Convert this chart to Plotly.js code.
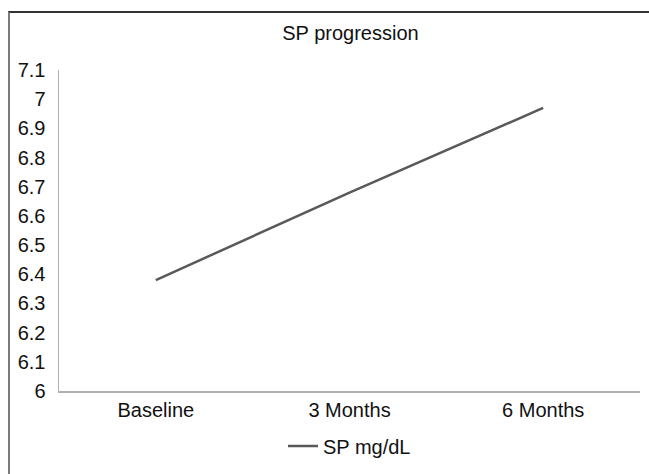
<!DOCTYPE html>
<html>
<head>
<meta charset="utf-8">
<script src="https://cdn.plot.ly/plotly-3.0.1.min.js"></script>
<style>
  html, body { margin: 0; padding: 0; background: #fff; }
  #wrap { position: relative; width: 649px; height: 474px; overflow: hidden; }
  #chart { position: absolute; left: 0; top: 0; width: 649px; height: 474px; }
  #frame { position: absolute; left: 8px; top: 11px; width: 700px; height: 520px;
           border-left: 2px solid #7a7a7a; border-top: 2px solid #333; pointer-events: none; }
</style>
</head>
<body>
<div id="wrap">
  <div id="chart"></div>
  <div id="frame"></div>
</div>
<script>
const categories = ["Baseline", "3 Months", "6 Months"];
const spValues = [6.38, 6.68, 6.97];
const seriesName = "SP mg/dL";
const chartTitle = "SP progression";
const yTicks = [6, 6.1, 6.2, 6.3, 6.4, 6.5, 6.6, 6.7, 6.8, 6.9, 7, 7.1];

const font = "Liberation Sans, Arial, sans-serif";

const trace = {
  x: categories,
  y: spValues,
  type: "scatter",
  mode: "lines",
  name: seriesName,
  line: { color: "#595959", width: 2.5 },
  showlegend: true
};

const layout = {
  width: 649,
  height: 474,
  margin: { l: 59, r: 9, t: 70, b: 71 },
  paper_bgcolor: "#ffffff",
  plot_bgcolor: "#ffffff",
  font: { family: font, size: 20, color: "#111" },
  title: {
    text: chartTitle,
    font: { family: font, size: 20, color: "#111" },
    x: 0.54, xanchor: "center",
    y: 1 - 33 / 474, yanchor: "middle"
  },
  xaxis: {
    type: "category",
    range: [-0.5, 2.5],
    showgrid: false,
    zeroline: false,
    showline: true,
    linecolor: "#b0b0b0",
    linewidth: 1.5,
    ticks: "",
    tickfont: { family: font, size: 20, color: "#111" }
  },
  yaxis: {
    range: [6, 7.1],
    tickvals: yTicks,
    ticktext: yTicks.map(v => String(v)),
    showgrid: false,
    zeroline: false,
    showline: true,
    linecolor: "#b0b0b0",
    linewidth: 1.5,
    ticks: "",
    ticklabelstandoff: 8,
    tickfont: { family: font, size: 20, color: "#111" }
  },
  showlegend: true,
  legend: {
    orientation: "h",
    x: 0.5, xanchor: "center",
    y: -0.171, yanchor: "middle",
    font: { family: font, size: 20, color: "#111" },
    bgcolor: "rgba(0,0,0,0)"
  }
};

Plotly.newPlot("chart", [trace], layout, { displayModeBar: false, staticPlot: true });
</script>
</body>
</html>
